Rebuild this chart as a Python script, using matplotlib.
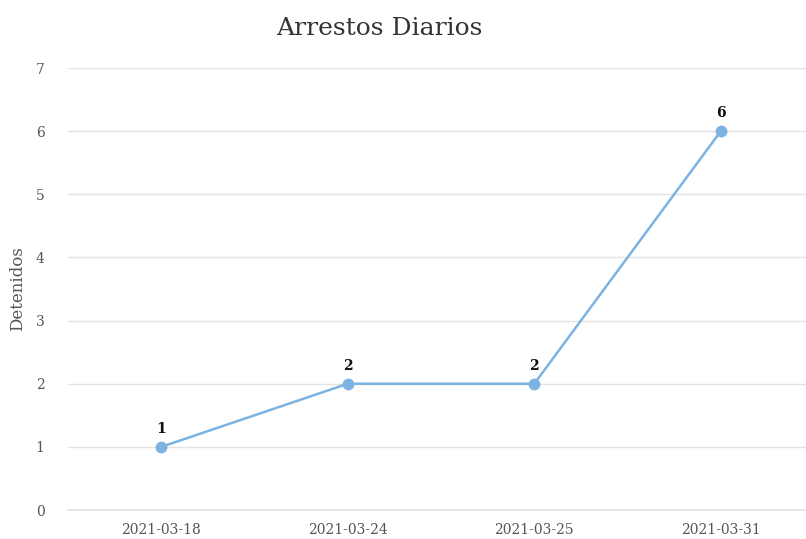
import matplotlib
matplotlib.use("Agg")
import matplotlib.pyplot as plt

fechas = ['2021-03-18', '2021-03-24', '2021-03-25', '2021-03-31']
detenidos = [1, 2, 2, 6]

LINE_COLOR = '#7db3e1'

plt.rcParams['font.family'] = ['DejaVu Serif']

fig = plt.figure(figsize=(8.06, 5.39), dpi=100)
ax = fig.add_axes([0.0844, 0.0538, 0.9256, 0.82])

x = list(range(len(fechas)))
ax.plot(x, detenidos, color=LINE_COLOR, lw=1.8, marker='o', ms=7.5, zorder=3)
for xi, v in zip(x, detenidos):
    ax.annotate(str(v), (xi, v), xytext=(0, 8), textcoords='offset points',
                ha='center', va='bottom', fontsize=10, fontweight='bold', color='#111111')

ax.set_xlim(-0.5, len(fechas) - 0.5)
ax.set_ylim(0, 7)
ax.set_xticks(x)
ax.set_xticklabels(fechas)
ax.set_yticks(range(0, 8))
ax.tick_params(length=0, labelsize=10, colors='#555555', pad=9)
ax.tick_params(axis='y', pad=17)
ax.grid(axis='y', color='#e3e3e3', lw=1)
ax.axhline(0, color='#e3e3e3', lw=1.2, clip_on=False, zorder=1)
ax.set_axisbelow(True)
for s in ax.spines.values():
    s.set_visible(False)

ax.set_ylabel('Detenidos', fontsize=12, color='#555555')
ax.yaxis.set_label_coords(-0.056, 0.5)
fig.text(0.471, 0.948, 'Arrestos Diarios', ha='center', va='center',
         fontsize=18, color='#333333')

fig.savefig('out.png', dpi=100)
